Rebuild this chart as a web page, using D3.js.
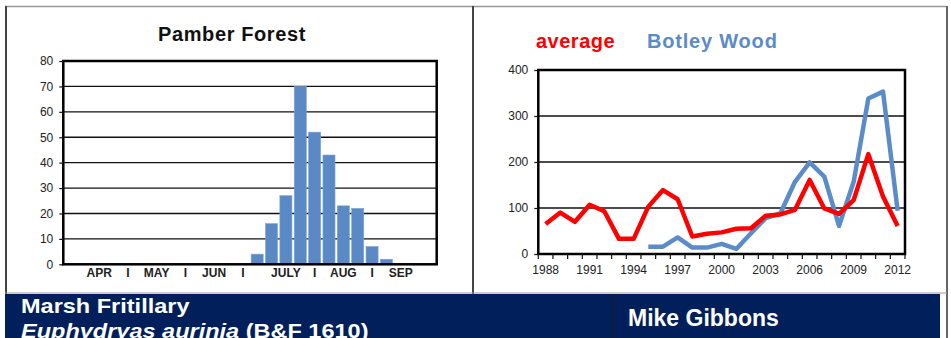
<!DOCTYPE html>
<meta charset="utf-8">
<body style="margin:0;background:#fff">
    <style>
        text { font-family: "Liberation Sans", Arial, sans-serif; }
        .grid line { stroke: #111; stroke-width: 1.3px; }
        .axis path { display: none; }
        .axis line { stroke: #111; stroke-width: 1.2px; }
        .axis text { fill: #222; font-size: 12px; }
    </style>
    <script src="https://d3js.org/d3.v7.min.js"></script>
    <script>
        // Pamber Forest: weekly counts, April to September (26 weeks)
        var weekLabels = ["", "", "APR", "", "I", "", "MAY", "", "I", "", "JUN", "", "I",
                          "", "", "JULY", "", "I", "", "AUG", "", "I", "", "SEP", "", ""];
        var weekCounts = [0, 0, 0, 0, 0, 0, 0, 0, 0, 0, 0, 0, 0,
                          4, 16, 27, 70, 52, 43, 23, 22, 7, 2, 0, 0, 0];
        var countTicks = [0, 10, 20, 30, 40, 50, 60, 70, 80];

        // Botley Wood vs average, yearly index
        var years = d3.range(1988, 2013);
        var yearLabels = [1988, 1991, 1994, 1997, 2000, 2003, 2006, 2009, 2012];
        var averageIndex = [65, 90, 70, 107, 93, 33, 33, 103, 139, 119, 38, 44, 47,
                            55, 56, 83, 86, 96, 161, 99, 87, 117, 217, 125, 61];
        var botleyIndex = [null, null, null, null, null, null, null, 16, 16, 36, 14, 14, 22,
                           11, 45, 78, 88, 157, 199, 168, 61, 157, 338, 353, 94];
        var indexTicks = [0, 100, 200, 300, 400];

        var svg = d3.select("body").append("svg")
            .attr("width", 951)
            .attr("height", 338);

        // panel frame
        svg.append("line").attr("x1", 5).attr("x2", 947).attr("y1", 6.5).attr("y2", 6.5)
            .attr("stroke", "#999").attr("stroke-width", 1.5);
        [6, 473].forEach(function(px) {
            svg.append("line").attr("x1", px).attr("x2", px).attr("y1", 6).attr("y2", 294)
                .attr("stroke", "#444").attr("stroke-width", 2);
        });
        svg.append("line").attr("x1", 947).attr("x2", 947).attr("y1", 6).attr("y2", 338)
            .attr("stroke", "#666").attr("stroke-width", 2);
        svg.append("line").attr("x1", 5).attr("x2", 947).attr("y1", 293).attr("y2", 293)
            .attr("stroke", "#999").attr("stroke-width", 1);

        // ---------- left: bar chart ----------
        var left = {x0: 63.3, x1: 436.7, y0: 61, y1: 264.3};
        var xb = d3.scaleBand().domain(d3.range(weekCounts.length))
            .range([left.x0, left.x1]).paddingInner(0.16).paddingOuter(0.08);
        var yb = d3.scaleLinear().domain([0, 80]).range([left.y1, left.y0]);

        svg.append("text").attr("x", 232).attr("y", 41)
            .attr("text-anchor", "middle").attr("font-weight", "bold")
            .attr("font-size", "20px").attr("letter-spacing", "0.6px").attr("fill", "#111")
            .text("Pamber Forest");

        svg.append("g").attr("class", "grid")
            .selectAll("line").data(countTicks.slice(1, -1)).join("line")
            .attr("x1", left.x0).attr("x2", left.x1)
            .attr("y1", function(d) { return yb(d); }).attr("y2", function(d) { return yb(d); });

        svg.append("g")
            .selectAll("rect").data(weekCounts.map(function(v, i) { return {i: i, v: v}; })
                .filter(function(d) { return d.v > 0; }))
            .join("rect")
            .attr("x", function(d) { return xb(d.i); })
            .attr("width", xb.bandwidth())
            .attr("y", function(d) { return yb(d.v); })
            .attr("height", function(d) { return yb(0) - yb(d.v); })
            .attr("fill", "#5a89c5")
            .attr("stroke", "#7ea4d6").attr("stroke-width", 0.6);

        svg.append("rect").attr("x", left.x0).attr("y", left.y0)
            .attr("width", left.x1 - left.x0).attr("height", left.y1 - left.y0)
            .attr("fill", "none").attr("stroke", "#000").attr("stroke-width", 2.5);

        svg.append("g").attr("class", "axis")
            .attr("transform", "translate(" + left.x0 + ",0)")
            .call(d3.axisLeft(yb).tickValues(countTicks).tickSize(4).tickPadding(6));

        var xbAxis = svg.append("g").attr("class", "axis")
            .attr("transform", "translate(0," + left.y1 + ")")
            .call(d3.axisBottom(xb)
                .tickValues(d3.range(weekLabels.length).filter(function(i) { return weekLabels[i] !== ""; }))
                .tickFormat(function(i) { return weekLabels[i]; })
                .tickSize(0).tickPadding(4));
        xbAxis.selectAll("text").attr("font-weight", "bold").attr("font-size", "12.5px");

        // ---------- right: line chart ----------
        var right = {x0: 538.3, x1: 905, y0: 70, y1: 254};
        var xl = d3.scaleBand().domain(years).range([right.x0, right.x1]);
        var yl = d3.scaleLinear().domain([0, 400]).range([right.y1, right.y0]);
        var cx = function(yr) { return xl(yr) + xl.bandwidth() / 2; };

        svg.append("text").attr("x", 536).attr("y", 48)
            .attr("font-weight", "bold").attr("font-size", "20px")
            .attr("letter-spacing", "0.5px").attr("fill", "#ff0000")
            .text("average");
        svg.append("text").attr("x", 647).attr("y", 48)
            .attr("font-weight", "bold").attr("font-size", "20px")
            .attr("letter-spacing", "0.8px").attr("fill", "#5b8cc8")
            .text("Botley Wood");

        svg.append("g").attr("class", "grid")
            .selectAll("line").data(indexTicks.slice(1, -1)).join("line")
            .attr("x1", right.x0).attr("x2", right.x1)
            .attr("y1", function(d) { return yl(d); }).attr("y2", function(d) { return yl(d); });

        var line = d3.line()
            .defined(function(d) { return d.v != null; })
            .x(function(d) { return cx(d.yr); })
            .y(function(d) { return yl(d.v); });

        svg.append("path")
            .datum(years.map(function(yr, i) { return {yr: yr, v: botleyIndex[i]}; }))
            .attr("d", line).attr("fill", "none")
            .attr("stroke", "#5b8cc8").attr("stroke-width", 4.5).attr("stroke-linejoin", "round");
        svg.append("path")
            .datum(years.map(function(yr, i) { return {yr: yr, v: averageIndex[i]}; }))
            .attr("d", line).attr("fill", "none")
            .attr("stroke", "#ff0000").attr("stroke-width", 4.5).attr("stroke-linejoin", "round");

        svg.append("rect").attr("x", right.x0).attr("y", right.y0)
            .attr("width", right.x1 - right.x0).attr("height", right.y1 - right.y0)
            .attr("fill", "none").attr("stroke", "#000").attr("stroke-width", 2.5);

        svg.append("g").attr("class", "axis")
            .attr("transform", "translate(" + right.x0 + ",0)")
            .call(d3.axisLeft(yl).tickValues(indexTicks).tickSize(4).tickPadding(6));

        // tick marks on category boundaries
        svg.append("g").selectAll("line")
            .data(years.map(function(yr) { return xl(yr); }).concat([right.x1]))
            .join("line")
            .attr("x1", function(d) { return d; }).attr("x2", function(d) { return d; })
            .attr("y1", right.y1).attr("y2", right.y1 + 5)
            .attr("stroke", "#111").attr("stroke-width", 1.2);

        svg.append("g").attr("class", "axis")
            .attr("transform", "translate(0," + right.y1 + ")")
            .call(d3.axisBottom(xl).tickValues(yearLabels).tickSize(0).tickPadding(11));

        // ---------- banner ----------
        svg.append("rect").attr("x", 5).attr("y", 294).attr("width", 935).attr("height", 44)
            .attr("fill", "#001f5b");
        svg.append("line").attr("x1", 613).attr("x2", 613).attr("y1", 294).attr("y2", 338)
            .attr("stroke", "#1a1a30").attr("stroke-width", 1.5);

        // species names are set slightly wide, as in the source sheet
        var species = svg.append("g").attr("transform", "translate(21,0) scale(1.12,1)");
        species.append("text").attr("x", 0).attr("y", 313)
            .attr("font-weight", "bold").attr("font-size", "21px").attr("fill", "#fff")
            .text("Marsh Fritillary");
        var latin = species.append("text").attr("x", 0).attr("y", 338)
            .attr("font-weight", "bold").attr("font-size", "21px").attr("fill", "#fff");
        latin.append("tspan").attr("font-style", "italic").text("Euphydryas aurinia");
        latin.append("tspan").text(" (B&F 1610)");

        svg.append("text").attr("x", 628).attr("y", 326)
            .attr("font-weight", "bold").attr("font-size", "23px").attr("fill", "#fff")
            .text("Mike Gibbons");
    </script>
</body>
